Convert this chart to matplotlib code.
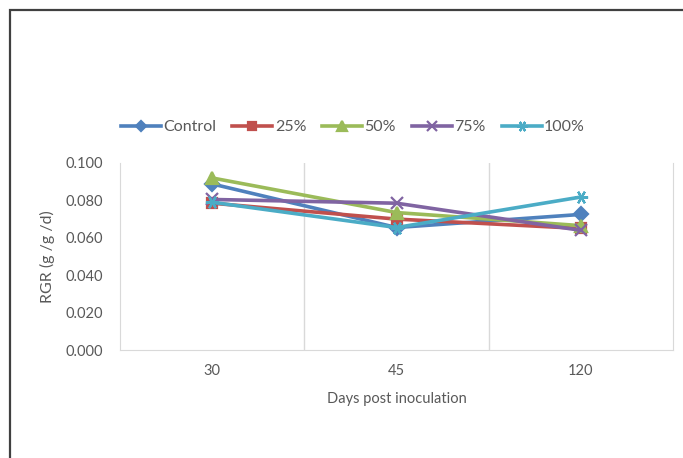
import matplotlib
matplotlib.use('Agg')
import matplotlib.pyplot as plt
from matplotlib.patches import Rectangle

# RGR per treatment at each sampling day
days = ['30', '45', '120']
series_names = ['Control', '25%', '50%', '75%', '100%']
control = [0.0888, 0.0655, 0.0725]
pct25 = [0.0785, 0.0700, 0.0650]
pct50 = [0.0920, 0.0735, 0.0665]
pct75 = [0.0805, 0.0785, 0.0640]
pct100 = [0.0790, 0.0655, 0.0818]

colors = ['#4F81BD', '#C0504D', '#9BBB59', '#8064A2', '#4BACC6']
markers = ['D', 's', '^', 'x', (6, 2, 30)]
msizes = [7, 7.5, 8.5, 8.5, 9.5]

plt.rcParams['font.family'] = ['Lato', 'DejaVu Sans']

fig = plt.figure(figsize=(6.83, 4.58), dpi=100)
ax = fig.add_axes([120/683, 1-350/458, 553/683, 187/458])

x = list(range(len(days)))
for name, vals, c, m, ms in zip(series_names, [control, pct25, pct50, pct75, pct100],
                                colors, markers, msizes):
    ax.plot(x, vals, color=c, lw=2.6, marker=m, markersize=ms,
            markeredgewidth=1.6, label=name, solid_joinstyle='round')

ax.set_xlim(-0.5, 2.5)
ax.set_ylim(0, 0.1)
ax.set_yticks([0, 0.02, 0.04, 0.06, 0.08, 0.1])
ax.set_yticklabels(['%.3f' % v for v in ax.get_yticks()])
ax.set_xticks(x)
ax.set_xticklabels(days)
ax.set_xticks([0.5, 1.5], minor=True)
ax.grid(which='minor', axis='x', color='#d9d9d9', lw=1)
ax.tick_params(which='both', length=0)
ax.tick_params(axis='y', pad=12, labelsize=10.5, labelcolor='#595959')
ax.tick_params(axis='x', pad=10, labelsize=10.5, labelcolor='#595959')

for s in ['left', 'right', 'bottom']:
    ax.spines[s].set_color('#d9d9d9')
ax.spines['top'].set_visible(False)

ax.set_xlabel('Days post inoculation', fontsize=10.5, color='#595959', labelpad=10)
ax.set_ylabel('RGR (g /g /d)', fontsize=11.5, color='#595959', labelpad=8)

fig.legend(loc='center', bbox_to_anchor=(353/683, 1-127/458), ncol=5,
           frameon=False, fontsize=11.5, handlelength=2.5, handletextpad=0.15,
           columnspacing=1.0, labelcolor='#595959', markerscale=0.8)

# outer chart border
fig.add_artist(Rectangle((10/683, -0.1), 1.2, 1-10/458+0.1, transform=fig.transFigure,
                         fill=False, edgecolor='#404040', lw=1.6))

fig.savefig('out.png', dpi=100)
